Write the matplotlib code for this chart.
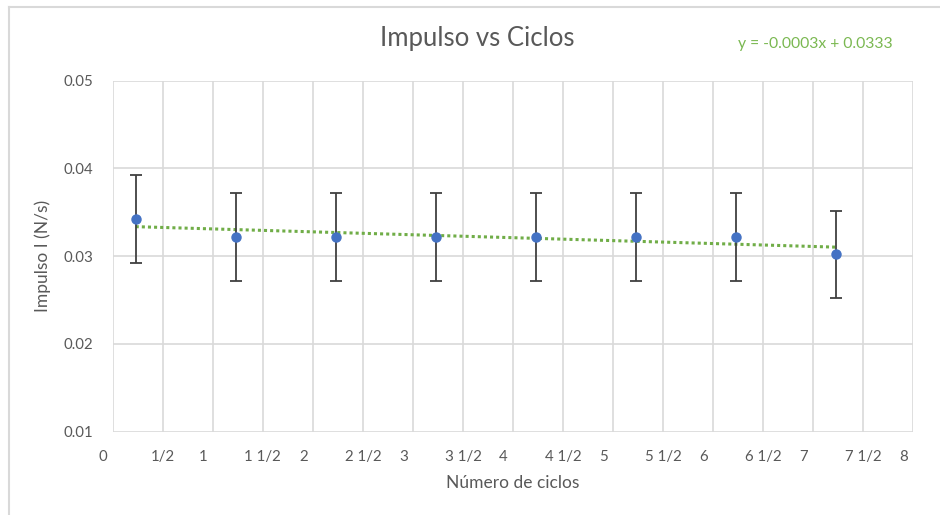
import numpy as np
import matplotlib
matplotlib.use("Agg")
import matplotlib.pyplot as plt
from matplotlib.transforms import ScaledTranslation
from matplotlib.lines import Line2D

# datos
ciclos = [0.23, 1.23, 2.23, 3.23, 4.23, 5.23, 6.23, 7.23]
impulso = [0.0342, 0.0322, 0.0322, 0.0322, 0.0322, 0.0322, 0.0322, 0.0302]
error = [0.005, 0.005, 0.005, 0.005, 0.005, 0.005, 0.005, 0.005]
x_ticks = [0, 0.5, 1, 1.5, 2, 2.5, 3, 3.5, 4, 4.5, 5, 5.5, 6, 6.5, 7, 7.5, 8]
x_labels = ["0", "1/2", "1", "1 1/2", "2", "2 1/2", "3", "3 1/2", "4", "4 1/2",
            "5", "5 1/2", "6", "6 1/2", "7", "7 1/2", "8"]
y_ticks = [0.01, 0.02, 0.03, 0.04, 0.05]
ecuacion = "y = -0.0003x + 0.0333"

plt.rcParams['font.family'] = ['Lato', 'DejaVu Sans']
gris = '#595959'

fig = plt.figure(figsize=(9.4, 5.15), dpi=100)
ax = fig.add_axes([0.1199, 0.1617, 0.8517, 0.6816])

ax.errorbar(ciclos, impulso, yerr=error, fmt='none', ecolor='#404040',
            elinewidth=1.3, capsize=4.5, capthick=1.3, zorder=3)
ax.plot(ciclos, impulso, 'o', color='#4472C4', markersize=6.5, zorder=4)

# linea de tendencia (ajuste lineal de los datos)
m, b = np.polyfit(ciclos, impulso, 1)
xt = np.array([ciclos[0], ciclos[-1]])
ax.plot(xt, m * xt + b, linestyle=(0, (1, 1)), color='#70AD47',
        linewidth=2.2, dash_capstyle='butt', zorder=2)

ax.set_xlim(0, 8)
ax.set_ylim(0.01, 0.05)
ax.set_xticks(x_ticks)
ax.set_xticklabels(x_labels)
ax.set_yticks(y_ticks)
ax.set_yticklabels([f"{v:.2f}" for v in y_ticks])
ax.tick_params(length=0, labelsize=10.8, labelcolor=gris)
ax.tick_params(axis='x', pad=13)
ax.tick_params(axis='y', pad=14)

# etiquetas enteras desplazadas como en el formato de fracciones de Excel
off = ScaledTranslation(-9.4 / 100, 0, fig.dpi_scale_trans)
for lab, t in zip(ax.get_xticklabels(), x_ticks):
    if float(t).is_integer():
        lab.set_transform(lab.get_transform() + off)

ax.grid(True, color='#D9D9D9', linewidth=1.2)
ax.set_axisbelow(True)
for s in ax.spines.values():
    s.set_visible(False)

ax.set_xlabel("Número de ciclos", fontsize=12.5, color=gris, labelpad=8)
ax.set_ylabel("Impulso I (N/s)", fontsize=12.5, color=gris, labelpad=9)

fig.text(0.508, 0.926, "Impulso vs Ciclos", fontsize=18.5, color=gris,
         ha='center', va='center')
fig.text(0.867, 0.914, ecuacion, fontsize=11.3, color='#7AB851',
         ha='center', va='center')

# borde del grafico
fig.add_artist(Line2D([0.0096, 0.0096], [0, 0.986], transform=fig.transFigure,
                      color='#D9D9D9', linewidth=1.5))
fig.add_artist(Line2D([0.0096, 1], [0.986, 0.986], transform=fig.transFigure,
                      color='#D9D9D9', linewidth=1.5))

fig.savefig("out.png", dpi=100)
